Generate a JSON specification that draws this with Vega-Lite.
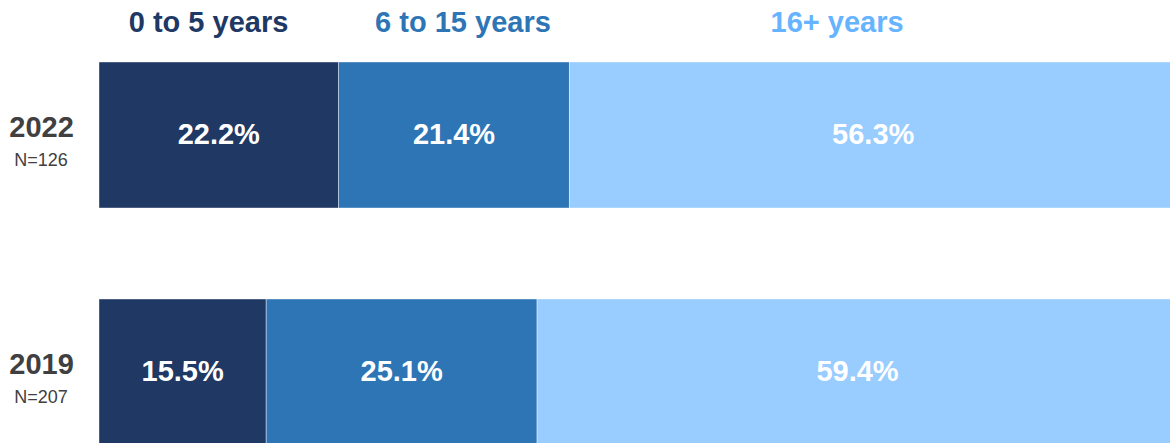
{
  "$schema": "https://vega.github.io/schema/vega-lite/v6.json",
  "width": 1079,
  "height": 383,
  "autosize": {"type": "none"},
  "padding": {"left": 99, "top": 62, "right": 0, "bottom": 0},
  "config": {"view": {"stroke": null}, "font": "Liberation Sans", "text": {"font": "Liberation Sans"}},
  "datasets": {
    "bars": [
      {"year": "2022", "group": "0 to 5 years", "k": 1, "share": 0.222},
      {"year": "2022", "group": "6 to 15 years", "k": 2, "share": 0.214},
      {"year": "2022", "group": "16+ years", "k": 3, "share": 0.563},
      {"year": "2019", "group": "0 to 5 years", "k": 1, "share": 0.155},
      {"year": "2019", "group": "6 to 15 years", "k": 2, "share": 0.251},
      {"year": "2019", "group": "16+ years", "k": 3, "share": 0.594}
    ],
    "headers": [
      {"group": "0 to 5 years", "pos": 0.1015, "year": "2022"},
      {"group": "6 to 15 years", "pos": 0.3373, "year": "2022"},
      {"group": "16+ years", "pos": 0.684, "year": "2022"}
    ],
    "samples": [
      {"year": "2022", "n": "N=126", "pos": 0},
      {"year": "2019", "n": "N=207", "pos": 0}
    ]
  },
  "encoding": {
    "y": {
      "field": "year",
      "type": "nominal",
      "sort": ["2022", "2019"],
      "scale": {"domain": ["2022", "2019"], "paddingInner": 0.384, "paddingOuter": 0},
      "axis": {
        "title": null,
        "domain": false,
        "ticks": false,
        "labelFontSize": 29,
        "labelFontWeight": "bold",
        "labelColor": "#404040",
        "labelAlign": "center",
        "labelBaseline": "middle",
        "labelPadding": 58,
        "labelOffset": -7,
        "labelFont": "Liberation Sans"
      }
    }
  },
  "layer": [
    {
      "data": {"name": "bars"},
      "transform": [
        {"stack": "share", "groupby": ["year"], "sort": [{"field": "k"}], "as": ["x0", "x1"]}
      ],
      "mark": {"type": "bar", "stroke": "#ffffff", "strokeWidth": 1, "strokeOpacity": 0.4},
      "encoding": {
        "x": {"field": "x0", "type": "quantitative", "scale": {"domain": [0, 1], "nice": false, "zero": true}, "axis": null},
        "x2": {"field": "x1"},
        "color": {
          "field": "group",
          "type": "nominal",
          "scale": {"domain": ["0 to 5 years", "6 to 15 years", "16+ years"], "range": ["#203864", "#2E75B6", "#99CCFF"]},
          "legend": null
        }
      }
    },
    {
      "data": {"name": "bars"},
      "transform": [
        {"stack": "share", "groupby": ["year"], "sort": [{"field": "k"}], "as": ["x0", "x1"]},
        {"fold": ["x0", "x1"], "as": ["edge", "xe"]}
      ],
      "mark": {"type": "text", "color": "#ffffff", "fontSize": 29, "fontWeight": "bold", "baseline": "middle"},
      "encoding": {
        "x": {"field": "xe", "type": "quantitative", "aggregate": "mean"},
        "detail": {"field": "group", "type": "nominal"},
        "text": {"field": "share", "type": "quantitative", "aggregate": "max", "format": ".1%"}
      }
    },
    {
      "data": {"name": "headers"},
      "mark": {"type": "text", "fontSize": 29, "fontWeight": "bold", "baseline": "middle", "dy": -112},
      "encoding": {
        "x": {"field": "pos", "type": "quantitative"},
        "text": {"field": "group"},
        "color": {
          "field": "group",
          "type": "nominal",
          "scale": {"domain": ["0 to 5 years", "6 to 15 years", "16+ years"], "range": ["#203864", "#2E75B6", "#99CCFF"]},
          "legend": null
        },
        "fill": {
          "field": "group",
          "type": "nominal",
          "scale": {"domain": ["0 to 5 years", "6 to 15 years", "16+ years"], "range": ["#203864", "#2E75B6", "#66B3FF"]},
          "legend": null
        }
      }
    },
    {
      "data": {"name": "samples"},
      "mark": {"type": "text", "fontSize": 18, "color": "#404040", "baseline": "middle", "align": "center", "dx": -58, "dy": 26},
      "encoding": {
        "x": {"field": "pos", "type": "quantitative"},
        "text": {"field": "n"}
      }
    }
  ]
}
